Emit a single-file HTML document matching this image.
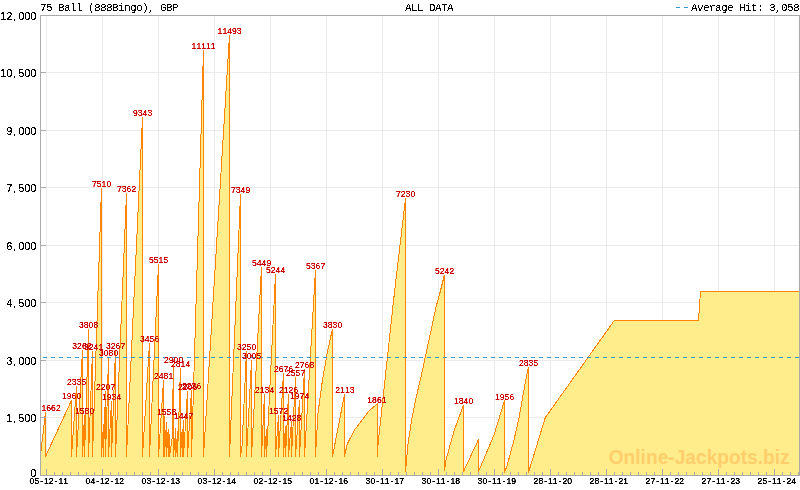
<!DOCTYPE html>
<html lang="en"><head><meta charset="utf-8"><title>75 Ball (888Bingo), GBP - ALL DATA</title>
<style>html,body{margin:0;padding:0;background:#fff;}body{width:800px;height:490px;overflow:hidden;}svg{display:block;}</style>
</head><body>
<svg width="800" height="490" viewBox="0 0 800 490">
<defs><filter id="na" x="-5%" y="-20%" width="110%" height="140%" color-interpolation-filters="sRGB"><feComponentTransfer><feFuncA type="linear" slope="1000" intercept="-450"/></feComponentTransfer></filter><filter id="nb" x="-5%" y="-20%" width="110%" height="140%" color-interpolation-filters="sRGB"><feComponentTransfer><feFuncA type="linear" slope="1000" intercept="-380"/></feComponentTransfer></filter><filter id="ne" x="-5%" y="-20%" width="110%" height="140%" color-interpolation-filters="sRGB"><feComponentTransfer><feFuncA type="linear" slope="2.5" intercept="-0.6"/></feComponentTransfer></filter><filter id="nc" x="-5%" y="-20%" width="110%" height="140%" color-interpolation-filters="sRGB"><feComponentTransfer><feFuncA type="linear" slope="3" intercept="-0.95"/></feComponentTransfer></filter></defs>
<rect width="800" height="490" fill="#fff"/>
<g stroke="#ebebeb" stroke-width="1" shape-rendering="crispEdges">
<line x1="46.5" y1="16" x2="46.5" y2="475" />
<line x1="102.5" y1="16" x2="102.5" y2="475" />
<line x1="158.5" y1="16" x2="158.5" y2="475" />
<line x1="214.5" y1="16" x2="214.5" y2="475" />
<line x1="270.5" y1="16" x2="270.5" y2="475" />
<line x1="326.5" y1="16" x2="326.5" y2="475" />
<line x1="382.5" y1="16" x2="382.5" y2="475" />
<line x1="438.5" y1="16" x2="438.5" y2="475" />
<line x1="494.5" y1="16" x2="494.5" y2="475" />
<line x1="550.5" y1="16" x2="550.5" y2="475" />
<line x1="606.5" y1="16" x2="606.5" y2="475" />
<line x1="662.5" y1="16" x2="662.5" y2="475" />
<line x1="718.5" y1="16" x2="718.5" y2="475" />
<line x1="774.5" y1="16" x2="774.5" y2="475" />
<line x1="41" y1="72.5" x2="800" y2="72.5" />
<line x1="41" y1="130.5" x2="800" y2="130.5" />
<line x1="41" y1="187.5" x2="800" y2="187.5" />
<line x1="41" y1="245.5" x2="800" y2="245.5" />
<line x1="41" y1="302.5" x2="800" y2="302.5" />
<line x1="41" y1="360.5" x2="800" y2="360.5" />
<line x1="41" y1="417.5" x2="800" y2="417.5" />
</g>
<g shape-rendering="crispEdges">
<polygon points="40.5,455.5 45.5,411.8 45.5,456.5 71.5,400.4 71.5,456.5 76.5,386.0 76.5,456.5 82.5,350.5 82.5,456.5 84.5,414.9 84.5,456.5 88.5,329.5 88.5,456.5 92.5,351.3 92.5,456.5 101.5,187.6 101.5,456.5 103.5,424.5 103.5,456.5 105.5,390.9 105.5,456.5 108.5,357.4 108.5,456.5 111.5,401.4 111.5,456.5 115.5,350.3 115.5,456.5 126.5,193.3 126.5,456.5 142.5,117.4 142.5,456.5 149.5,343.0 149.5,456.5 158.5,264.1 158.5,456.5 163.5,380.4 163.5,456.5 164.5,415.8 164.5,456.5 166.5,421.8 166.5,456.5 168.2,429.5 168.2,456.5 169.5,434.1 169.5,456.5 172.0,440.0 173.5,364.3 173.5,456.5 175.8,427.6 175.8,456.5 177.5,431.4 177.5,456.5 180.5,367.6 180.5,456.5 182.2,429.5 182.2,456.5 183.5,420.0 183.5,456.5 187.5,390.9 187.5,456.5 191.5,389.8 191.5,456.5 203.5,49.6 203.5,456.5 229.5,34.9 229.5,456.5 240.5,193.8 240.5,456.5 242.0,446.0 246.5,350.9 246.5,456.5 251.5,360.3 251.5,456.5 261.5,266.6 261.5,456.5 264.5,393.7 264.5,456.5 266.5,429.5 266.5,456.5 275.5,274.5 275.5,456.5 278.5,415.2 278.5,456.5 283.5,372.9 283.5,456.5 285.5,425.7 285.5,456.5 288.5,394.0 288.5,456.5 291.5,420.8 291.5,456.5 295.5,377.5 295.5,456.5 299.5,399.8 299.5,456.5 304.5,369.4 304.5,456.5 315.5,269.8 315.5,456.5 318.0,413.0 322.5,380.0 327.4,352.0 332.5,328.7 332.5,456.5 344.5,394.5 344.5,456.5 347.2,444.0 354.5,430.0 361.5,421.0 368.8,411.0 377.0,404.2 377.0,456.5 378.5,440.0 393.6,300.0 405.5,198.4 405.5,471.5 408.0,444.0 412.0,418.0 416.0,398.0 421.0,377.0 425.4,356.5 430.5,333.0 435.7,308.4 439.9,293.0 444.5,274.6 444.5,470.5 446.0,460.0 454.0,431.0 463.5,405.0 463.5,471.5 478.5,439.5 478.5,471.5 486.0,454.0 494.0,435.0 498.0,422.0 504.5,400.5 504.5,472.5 507.0,466.0 514.0,440.0 519.0,418.0 525.0,384.0 528.5,366.8 528.5,472.5 545.2,417.8 614.3,320.5 698.5,320.5 700.5,291.5 800.5,291.5 800.5,476 40.5,476" fill="#ffec8b" stroke="none"/>
<polyline points="40.5,455.5 45.5,411.8 45.5,456.5 71.5,400.4 71.5,456.5 76.5,386.0 76.5,456.5 82.5,350.5 82.5,456.5 84.5,414.9 84.5,456.5 88.5,329.5 88.5,456.5 92.5,351.3 92.5,456.5 101.5,187.6 101.5,456.5 103.5,424.5 103.5,456.5 105.5,390.9 105.5,456.5 108.5,357.4 108.5,456.5 111.5,401.4 111.5,456.5 115.5,350.3 115.5,456.5 126.5,193.3 126.5,456.5 142.5,117.4 142.5,456.5 149.5,343.0 149.5,456.5 158.5,264.1 158.5,456.5 163.5,380.4 163.5,456.5 164.5,415.8 164.5,456.5 166.5,421.8 166.5,456.5 168.2,429.5 168.2,456.5 169.5,434.1 169.5,456.5 172.0,440.0 173.5,364.3 173.5,456.5 175.8,427.6 175.8,456.5 177.5,431.4 177.5,456.5 180.5,367.6 180.5,456.5 182.2,429.5 182.2,456.5 183.5,420.0 183.5,456.5 187.5,390.9 187.5,456.5 191.5,389.8 191.5,456.5 203.5,49.6 203.5,456.5 229.5,34.9 229.5,456.5 240.5,193.8 240.5,456.5 242.0,446.0 246.5,350.9 246.5,456.5 251.5,360.3 251.5,456.5 261.5,266.6 261.5,456.5 264.5,393.7 264.5,456.5 266.5,429.5 266.5,456.5 275.5,274.5 275.5,456.5 278.5,415.2 278.5,456.5 283.5,372.9 283.5,456.5 285.5,425.7 285.5,456.5 288.5,394.0 288.5,456.5 291.5,420.8 291.5,456.5 295.5,377.5 295.5,456.5 299.5,399.8 299.5,456.5 304.5,369.4 304.5,456.5 315.5,269.8 315.5,456.5 318.0,413.0 322.5,380.0 327.4,352.0 332.5,328.7 332.5,456.5 344.5,394.5 344.5,456.5 347.2,444.0 354.5,430.0 361.5,421.0 368.8,411.0 377.0,404.2 377.0,456.5 378.5,440.0 393.6,300.0 405.5,198.4 405.5,471.5 408.0,444.0 412.0,418.0 416.0,398.0 421.0,377.0 425.4,356.5 430.5,333.0 435.7,308.4 439.9,293.0 444.5,274.6 444.5,470.5 446.0,460.0 454.0,431.0 463.5,405.0 463.5,471.5 478.5,439.5 478.5,471.5 486.0,454.0 494.0,435.0 498.0,422.0 504.5,400.5 504.5,472.5 507.0,466.0 514.0,440.0 519.0,418.0 525.0,384.0 528.5,366.8 528.5,472.5 545.2,417.8 614.3,320.5 698.5,320.5 700.5,291.5 800.5,291.5" fill="none" stroke="#ff8500" stroke-width="1" stroke-linejoin="miter"/>
</g>
<line x1="43" y1="357.5" x2="800" y2="357.5" stroke="#3399cc" stroke-width="1" stroke-dasharray="4 4" shape-rendering="crispEdges"/>
<g stroke="#aaaaaa" stroke-width="1" shape-rendering="crispEdges" fill="none">
<line x1="40.5" y1="15" x2="40.5" y2="476"/>
<line x1="799.5" y1="15" x2="799.5" y2="476"/>
<line x1="40" y1="15.5" x2="800" y2="15.5"/>
<line x1="40" y1="475.5" x2="800" y2="475.5"/>
<line x1="41" y1="15.5" x2="46" y2="15.5"/>
<line x1="41" y1="72.5" x2="46" y2="72.5"/>
<line x1="41" y1="130.5" x2="46" y2="130.5"/>
<line x1="41" y1="187.5" x2="46" y2="187.5"/>
<line x1="41" y1="245.5" x2="46" y2="245.5"/>
<line x1="41" y1="302.5" x2="46" y2="302.5"/>
<line x1="41" y1="360.5" x2="46" y2="360.5"/>
<line x1="41" y1="417.5" x2="46" y2="417.5"/>
<line x1="46.5" y1="469" x2="46.5" y2="475"/>
<line x1="54.5" y1="472" x2="54.5" y2="475"/>
<line x1="62.5" y1="472" x2="62.5" y2="475"/>
<line x1="70.5" y1="472" x2="70.5" y2="475"/>
<line x1="78.5" y1="472" x2="78.5" y2="475"/>
<line x1="86.5" y1="472" x2="86.5" y2="475"/>
<line x1="94.5" y1="472" x2="94.5" y2="475"/>
<line x1="102.5" y1="469" x2="102.5" y2="475"/>
<line x1="110.5" y1="472" x2="110.5" y2="475"/>
<line x1="118.5" y1="472" x2="118.5" y2="475"/>
<line x1="126.5" y1="472" x2="126.5" y2="475"/>
<line x1="134.5" y1="472" x2="134.5" y2="475"/>
<line x1="142.5" y1="472" x2="142.5" y2="475"/>
<line x1="150.5" y1="472" x2="150.5" y2="475"/>
<line x1="158.5" y1="469" x2="158.5" y2="475"/>
<line x1="166.5" y1="472" x2="166.5" y2="475"/>
<line x1="174.5" y1="472" x2="174.5" y2="475"/>
<line x1="182.5" y1="472" x2="182.5" y2="475"/>
<line x1="190.5" y1="472" x2="190.5" y2="475"/>
<line x1="198.5" y1="472" x2="198.5" y2="475"/>
<line x1="206.5" y1="472" x2="206.5" y2="475"/>
<line x1="214.5" y1="469" x2="214.5" y2="475"/>
<line x1="222.5" y1="472" x2="222.5" y2="475"/>
<line x1="230.5" y1="472" x2="230.5" y2="475"/>
<line x1="238.5" y1="472" x2="238.5" y2="475"/>
<line x1="246.5" y1="472" x2="246.5" y2="475"/>
<line x1="254.5" y1="472" x2="254.5" y2="475"/>
<line x1="262.5" y1="472" x2="262.5" y2="475"/>
<line x1="270.5" y1="469" x2="270.5" y2="475"/>
<line x1="278.5" y1="472" x2="278.5" y2="475"/>
<line x1="286.5" y1="472" x2="286.5" y2="475"/>
<line x1="294.5" y1="472" x2="294.5" y2="475"/>
<line x1="302.5" y1="472" x2="302.5" y2="475"/>
<line x1="310.5" y1="472" x2="310.5" y2="475"/>
<line x1="318.5" y1="472" x2="318.5" y2="475"/>
<line x1="326.5" y1="469" x2="326.5" y2="475"/>
<line x1="334.5" y1="472" x2="334.5" y2="475"/>
<line x1="342.5" y1="472" x2="342.5" y2="475"/>
<line x1="350.5" y1="472" x2="350.5" y2="475"/>
<line x1="358.5" y1="472" x2="358.5" y2="475"/>
<line x1="366.5" y1="472" x2="366.5" y2="475"/>
<line x1="374.5" y1="472" x2="374.5" y2="475"/>
<line x1="382.5" y1="469" x2="382.5" y2="475"/>
<line x1="390.5" y1="472" x2="390.5" y2="475"/>
<line x1="398.5" y1="472" x2="398.5" y2="475"/>
<line x1="406.5" y1="472" x2="406.5" y2="475"/>
<line x1="414.5" y1="472" x2="414.5" y2="475"/>
<line x1="422.5" y1="472" x2="422.5" y2="475"/>
<line x1="430.5" y1="472" x2="430.5" y2="475"/>
<line x1="438.5" y1="469" x2="438.5" y2="475"/>
<line x1="446.5" y1="472" x2="446.5" y2="475"/>
<line x1="454.5" y1="472" x2="454.5" y2="475"/>
<line x1="462.5" y1="472" x2="462.5" y2="475"/>
<line x1="470.5" y1="472" x2="470.5" y2="475"/>
<line x1="478.5" y1="472" x2="478.5" y2="475"/>
<line x1="486.5" y1="472" x2="486.5" y2="475"/>
<line x1="494.5" y1="469" x2="494.5" y2="475"/>
<line x1="502.5" y1="472" x2="502.5" y2="475"/>
<line x1="510.5" y1="472" x2="510.5" y2="475"/>
<line x1="518.5" y1="472" x2="518.5" y2="475"/>
<line x1="526.5" y1="472" x2="526.5" y2="475"/>
<line x1="534.5" y1="472" x2="534.5" y2="475"/>
<line x1="542.5" y1="472" x2="542.5" y2="475"/>
<line x1="550.5" y1="469" x2="550.5" y2="475"/>
<line x1="558.5" y1="472" x2="558.5" y2="475"/>
<line x1="566.5" y1="472" x2="566.5" y2="475"/>
<line x1="574.5" y1="472" x2="574.5" y2="475"/>
<line x1="582.5" y1="472" x2="582.5" y2="475"/>
<line x1="590.5" y1="472" x2="590.5" y2="475"/>
<line x1="598.5" y1="472" x2="598.5" y2="475"/>
<line x1="606.5" y1="469" x2="606.5" y2="475"/>
<line x1="614.5" y1="472" x2="614.5" y2="475"/>
<line x1="622.5" y1="472" x2="622.5" y2="475"/>
<line x1="630.5" y1="472" x2="630.5" y2="475"/>
<line x1="638.5" y1="472" x2="638.5" y2="475"/>
<line x1="646.5" y1="472" x2="646.5" y2="475"/>
<line x1="654.5" y1="472" x2="654.5" y2="475"/>
<line x1="662.5" y1="469" x2="662.5" y2="475"/>
<line x1="670.5" y1="472" x2="670.5" y2="475"/>
<line x1="678.5" y1="472" x2="678.5" y2="475"/>
<line x1="686.5" y1="472" x2="686.5" y2="475"/>
<line x1="694.5" y1="472" x2="694.5" y2="475"/>
<line x1="702.5" y1="472" x2="702.5" y2="475"/>
<line x1="710.5" y1="472" x2="710.5" y2="475"/>
<line x1="718.5" y1="469" x2="718.5" y2="475"/>
<line x1="726.5" y1="472" x2="726.5" y2="475"/>
<line x1="734.5" y1="472" x2="734.5" y2="475"/>
<line x1="742.5" y1="472" x2="742.5" y2="475"/>
<line x1="750.5" y1="472" x2="750.5" y2="475"/>
<line x1="758.5" y1="472" x2="758.5" y2="475"/>
<line x1="766.5" y1="472" x2="766.5" y2="475"/>
<line x1="774.5" y1="469" x2="774.5" y2="475"/>
<line x1="782.5" y1="472" x2="782.5" y2="475"/>
<line x1="790.5" y1="472" x2="790.5" y2="475"/>
<line x1="798.5" y1="472" x2="798.5" y2="475"/>
</g>
<g font-family="'Liberation Mono','DejaVu Sans Mono',monospace" font-size="11" letter-spacing="-0.6" fill="#000" filter="url(#na)">
<text x="40" y="10.5">75 Ball (888Bingo), GBP</text>
<text x="405" y="10.5">ALL DATA</text>
<text x="691" y="10.5">Average Hit: 3,058</text>
</g>
<g font-family="'Liberation Sans','DejaVu Sans',sans-serif" font-size="10.5" fill="#000" filter="url(#nb)">
<text x="0.38 6.38 13.26 18.38 24.38 30.38" y="19.5">12,000</text>
<text x="0.38 6.38 13.26 18.38 24.38 30.38" y="76.5">10,500</text>
<text x="6.38 13.26 18.38 24.38 30.38" y="134.5">9,000</text>
<text x="6.38 13.26 18.38 24.38 30.38" y="191.5">7,500</text>
<text x="6.38 13.26 18.38 24.38 30.38" y="249.5">6,000</text>
<text x="6.38 13.26 18.38 24.38 30.38" y="306.5">4,500</text>
<text x="6.38 13.26 18.38 24.38 30.38" y="364.5">3,000</text>
<text x="6.38 13.26 18.38 24.38 30.38" y="421.5">1,500</text>
<text x="30.38" y="476.8">0</text>
</g>
<g stroke="#3399cc" stroke-width="1" shape-rendering="crispEdges"><line x1="676" y1="7.5" x2="680" y2="7.5"/><line x1="684" y1="7.5" x2="688" y2="7.5"/></g>
<g font-family="'Liberation Sans','DejaVu Sans',sans-serif" font-size="8.6" fill="#000" stroke="#000" stroke-width="0.2" filter="url(#ne)">
<text x="29.61 34.41 40.17 44.01 48.81 54.57 58.41 63.21" y="484">05-12-11</text>
<text x="85.61 90.41 96.17 100.01 104.81 110.57 114.41 119.21" y="484">04-12-12</text>
<text x="141.61 146.41 152.17 156.01 160.81 166.57 170.41 175.21" y="484">03-12-13</text>
<text x="197.61 202.41 208.17 212.01 216.81 222.57 226.41 231.21" y="484">03-12-14</text>
<text x="253.61 258.41 264.17 268.01 272.81 278.57 282.41 287.21" y="484">02-12-15</text>
<text x="309.61 314.41 320.17 324.01 328.81 334.57 338.41 343.21" y="484">01-12-16</text>
<text x="365.61 370.41 376.17 380.01 384.81 390.57 394.41 399.21" y="484">30-11-17</text>
<text x="421.61 426.41 432.17 436.01 440.81 446.57 450.41 455.21" y="484">30-11-18</text>
<text x="477.61 482.41 488.17 492.01 496.81 502.57 506.41 511.21" y="484">30-11-19</text>
<text x="533.61 538.41 544.17 548.01 552.81 558.57 562.41 567.21" y="484">28-11-20</text>
<text x="589.61 594.41 600.17 604.01 608.81 614.57 618.41 623.21" y="484">28-11-21</text>
<text x="645.61 650.41 656.17 660.01 664.81 670.57 674.41 679.21" y="484">27-11-22</text>
<text x="701.61 706.41 712.17 716.01 720.81 726.57 730.41 735.21" y="484">27-11-23</text>
<text x="757.61 762.41 768.17 772.01 776.81 782.57 786.41 791.21" y="484">25-11-24</text>
</g>
<text x="608.7" y="464.4" font-family="'Liberation Sans','DejaVu Sans',sans-serif" font-weight="bold" font-size="19.5" fill="#ffce6c" textLength="181" lengthAdjust="spacingAndGlyphs">Online-Jackpots.biz</text>
<g font-family="'Liberation Sans','DejaVu Sans',sans-serif" font-size="8.6" fill="#cc0000" stroke="#cc0000" stroke-width="0.2" filter="url(#nc)">
<text x="41.51 46.31 51.11 55.91" y="410.7">1662</text>
<text x="62.01 66.81 71.61 76.41" y="399.3">1960</text>
<text x="67.01 71.81 76.61 81.41" y="384.9">2335</text>
<text x="72.31 77.11 81.91 86.71" y="349.4">3262</text>
<text x="75.01 79.81 84.61 89.41" y="413.8">1580</text>
<text x="79.01 83.81 88.61 93.41" y="328.4">3808</text>
<text x="84.01 88.81 93.61 98.41" y="350.2">3241</text>
<text x="92.01 96.81 101.61 106.41" y="186.5">7510</text>
<text x="96.01 100.81 105.61 110.41" y="389.8">2207</text>
<text x="99.01 103.81 108.61 113.41" y="356.3">3080</text>
<text x="102.01 106.81 111.61 116.41" y="400.3">1934</text>
<text x="106.01 110.81 115.61 120.41" y="349.2">3267</text>
<text x="117.01 121.81 126.61 131.41" y="192.2">7362</text>
<text x="133.01 137.81 142.61 147.41" y="116.3">9343</text>
<text x="140.01 144.81 149.61 154.41" y="341.9">3456</text>
<text x="149.01 153.81 158.61 163.41" y="263.0">5515</text>
<text x="154.01 158.81 163.61 168.41" y="379.3">2481</text>
<text x="157.01 161.81 166.61 171.41" y="414.7">1558</text>
<text x="164.01 168.81 173.61 178.41" y="363.2">2900</text>
<text x="171.01 175.81 180.61 185.41" y="366.5">2814</text>
<text x="174.01 178.81 183.61 188.41" y="418.9">1447</text>
<text x="178.01 182.81 187.61 192.41" y="389.8">2206</text>
<text x="182.01 186.81 191.61 196.41" y="388.7">2236</text>
<text x="191.61 196.41 201.21 206.01 210.81" y="48.5">11111</text>
<text x="217.61 222.41 227.21 232.01 236.81" y="33.8">11493</text>
<text x="231.01 235.81 240.61 245.41" y="192.7">7349</text>
<text x="237.01 241.81 246.61 251.41" y="349.8">3250</text>
<text x="242.01 246.81 251.61 256.41" y="359.2">3005</text>
<text x="252.01 256.81 261.61 266.41" y="265.5">5449</text>
<text x="255.01 259.81 264.61 269.41" y="392.6">2134</text>
<text x="266.01 270.81 275.61 280.41" y="273.4">5244</text>
<text x="269.01 273.81 278.61 283.41" y="414.1">1572</text>
<text x="274.01 278.81 283.61 288.41" y="371.8">2676</text>
<text x="279.01 283.81 288.61 293.41" y="392.9">2126</text>
<text x="282.21 287.01 291.81 296.61" y="420.7">1428</text>
<text x="286.01 290.81 295.61 300.41" y="376.4">2557</text>
<text x="290.01 294.81 299.61 304.41" y="398.7">1974</text>
<text x="295.01 299.81 304.61 309.41" y="368.3">2768</text>
<text x="306.01 310.81 315.61 320.41" y="268.7">5367</text>
<text x="323.01 327.81 332.61 337.41" y="327.6">3830</text>
<text x="335.31 340.11 344.91 349.71" y="393.4">2113</text>
<text x="367.31 372.11 376.91 381.71" y="403.1">1861</text>
<text x="396.01 400.81 405.61 410.41" y="197.3">7230</text>
<text x="435.01 439.81 444.61 449.41" y="273.5">5242</text>
<text x="454.01 458.81 463.61 468.41" y="403.9">1840</text>
<text x="495.01 499.81 504.61 509.41" y="400.4">1956</text>
<text x="519.01 523.81 528.61 533.41" y="365.7">2835</text>
</g>
</svg>
</body></html>
